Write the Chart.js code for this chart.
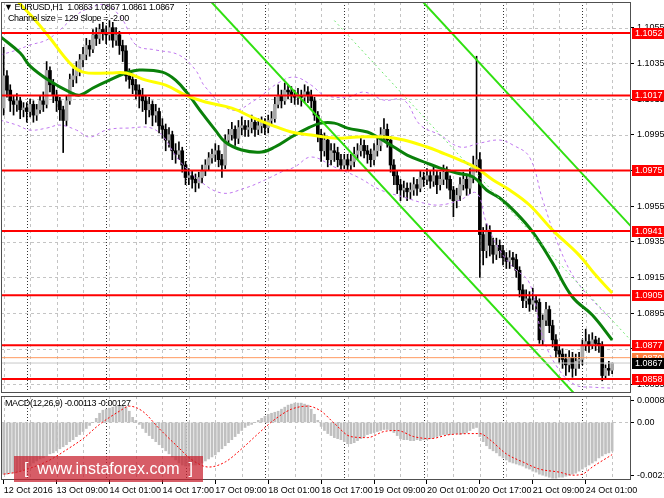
<!DOCTYPE html>
<html>
<head>
<meta charset="utf-8">
<script src="https://cdn.jsdelivr.net/npm/chart.js@4.4.0/dist/chart.umd.min.js"></script>
<style>
  html, body { margin: 0; padding: 0; background: #fff; }
  #wrap { position: relative; width: 664px; height: 498px; overflow: hidden; background: #fff; font-family: "Liberation Sans", Arial, sans-serif; }
  #main { position: absolute; left: 0; top: 0; }
  #macd { position: absolute; left: 0; top: 395px; }
  .txt { position: absolute; font-size: 9px; color: #000; white-space: pre; line-height: 11px; letter-spacing: -0.4px; }
  #wm { position: absolute; left: 14px; top: 456px; width: 189px; height: 26px; background: rgba(200, 30, 45, 0.72);
        color: #fff; font-size: 16px; line-height: 26px; white-space: pre; text-indent: 10px; }
</style>
</head>
<body>
<div id="wrap">
  <canvas id="main" width="664" height="395"></canvas>
  <canvas id="macd" width="664" height="103"></canvas>
  <div class="txt" style="left:4px;top:2px;">▼ EURUSD,H1  1.0863 1.0867 1.0861 1.0867</div>
  <div class="txt" style="left:8px;top:13px;">Channel size = 129 Slope = -2.00</div>
  <div class="txt" style="left:5px;top:398px;">MACD(12,26,9) -0.00113 -0.00127</div>
  <div id="wm">[  www.instaforex.com  ]</div>
</div>
<script>
// EURUSD H1, bars from 12 Oct 17:00 to 24 Oct 09:00
const firstOpen = 1.1010;
const closes = [
  1.1028,1.1020,1.1014,1.1012,1.1014,1.1009,1.1010,1.1008,1.1012,1.1006,
  1.1009,1.1014,1.1012,1.1031,1.1023,1.1017,1.1014,1.1009,1.1003,1.1014,
  1.1026,1.1028,1.1031,1.1037,1.1040,1.1045,1.1043,1.1051,1.1049,1.1054,
  1.1052,1.1051,1.1055,1.1048,1.1051,1.1045,1.1042,1.1028,1.1026,1.1023,
  1.1020,1.1017,1.1014,1.1009,1.1012,1.1006,1.1008,1.1000,1.0998,1.0992,
  1.0995,1.0986,1.0984,1.0986,1.0978,1.0971,1.0972,1.0970,1.0968,1.0971,
  1.0975,1.0978,1.0982,1.0984,1.0986,1.0981,1.0978,1.0992,1.0995,1.0998,
  1.0993,1.0999,1.1000,1.0998,1.0999,1.1002,1.0998,1.1000,1.1002,1.0999,
  1.1003,1.1004,1.1012,1.1017,1.1014,1.1020,1.1019,1.1017,1.1016,1.1017,
  1.1016,1.1019,1.1017,1.1014,1.1006,1.0995,1.0986,1.0992,1.0981,1.0986,
  1.0985,1.0981,1.0978,1.0981,1.0978,1.0980,1.0984,1.0986,1.0989,1.0986,
  1.0984,1.0981,1.0986,1.0989,1.0995,1.0998,1.0992,1.0978,1.0972,1.0967,
  1.0964,1.0965,1.0963,1.0964,1.0967,1.0965,1.0971,1.0970,1.0972,1.0969,
  1.0972,1.0967,1.0970,1.0974,1.0970,1.0964,1.0958,1.0961,1.0967,1.0970,
  1.0965,1.0971,1.0978,1.0981,1.0939,1.0930,1.0941,1.0933,1.0928,1.0933,
  1.0930,1.0926,1.0924,1.0926,1.0925,1.0919,1.0908,1.0902,1.0903,1.0900,
  1.0902,1.0901,1.0880,1.0891,1.0897,1.0888,1.0880,1.0874,1.0872,1.0869,
  1.0866,1.0870,1.0864,1.0868,1.0869,1.0877,1.0879,1.0877,1.0880,1.0878,
  1.0877,1.0860,1.0864,1.0863,1.0867
];
const highs = [
  1.1044,1.1031,1.1023,1.1017,1.1018,1.1016,1.1013,1.1013,1.1015,1.1014,
  1.1012,1.1017,1.1019,1.1036,1.1033,1.1026,1.1020,1.1016,1.1011,1.1017,
  1.1029,1.1032,1.1036,1.1040,1.1044,1.1049,1.1048,1.1054,1.1055,1.1057,
  1.1058,1.1056,1.1059,1.1058,1.1055,1.1053,1.1048,1.1045,1.1032,1.1029,
  1.1026,1.1023,1.1021,1.1017,1.1016,1.1014,1.1012,1.1010,1.1004,1.1001,
  1.0999,1.0997,1.0990,1.0991,1.0988,1.0980,1.0976,1.0975,1.0973,1.0974,
  1.0978,1.0981,1.0985,1.0987,1.0990,1.0989,1.0984,1.0995,1.0998,1.1002,
  1.1000,1.1003,1.1005,1.1003,1.1003,1.1006,1.1004,1.1004,1.1005,1.1004,
  1.1006,1.1008,1.1016,1.1023,1.1020,1.1024,1.1023,1.1022,1.1020,1.1021,
  1.1020,1.1023,1.1022,1.1020,1.1016,1.1008,1.0998,1.0996,1.0994,1.0990,
  1.0990,1.0988,1.0984,1.0984,1.0984,1.0984,1.0988,1.0990,1.0993,1.0992,
  1.0989,1.0987,1.0990,1.0993,1.0999,1.1004,1.1001,1.0994,1.0981,1.0975,
  1.0970,1.0969,1.0968,1.0968,1.0971,1.0970,1.0975,1.0974,1.0976,1.0975,
  1.0977,1.0975,1.0974,1.0978,1.0977,1.0972,1.0966,1.0965,1.0971,1.0974,
  1.0973,1.0976,1.0983,1.1039,1.0985,1.0943,1.0945,1.0944,1.0937,1.0937,
  1.0936,1.0933,1.0929,1.0930,1.0929,1.0928,1.0921,1.0911,1.0908,1.0907,
  1.0909,1.0905,1.0903,1.0894,1.0901,1.0899,1.0891,1.0883,1.0877,1.0875,
  1.0872,1.0874,1.0873,1.0872,1.0873,1.0880,1.0886,1.0883,1.0884,1.0882,
  1.0881,1.0879,1.0866,1.0868,1.0867
];
const lows = [
  1.1006,1.1016,1.1008,1.1006,1.1008,1.1004,1.1005,1.1002,1.1005,1.1002,
  1.1003,1.1007,1.1008,1.1010,1.1019,1.1013,1.1008,1.1003,1.0985,1.1000,
  1.1012,1.1022,1.1024,1.1028,1.1033,1.1037,1.1039,1.1041,1.1045,1.1046,
  1.1048,1.1046,1.1048,1.1044,1.1045,1.1040,1.1036,1.1025,1.1021,1.1018,
  1.1015,1.1010,1.1008,1.1001,1.1005,1.1000,1.1002,1.0996,1.0993,1.0986,
  1.0988,1.0981,1.0979,1.0981,1.0974,1.0967,1.0967,1.0965,1.0963,1.0965,
  1.0968,1.0972,1.0975,1.0979,1.0980,1.0977,1.0971,1.0976,1.0989,1.0992,
  1.0989,1.0990,1.0995,1.0994,1.0994,1.0996,1.0994,1.0995,1.0996,1.0995,
  1.0996,1.1000,1.1002,1.1010,1.1010,1.1012,1.1015,1.1013,1.1012,1.1012,
  1.1011,1.1013,1.1013,1.1010,1.1003,1.0991,1.0980,1.0983,1.0977,1.0978,
  1.0980,1.0977,1.0975,1.0976,1.0975,1.0975,1.0977,1.0981,1.0983,1.0982,
  1.0979,1.0977,1.0978,1.0983,1.0986,1.0992,1.0988,1.0974,1.0967,1.0962,
  1.0958,1.0960,1.0958,1.0959,1.0961,1.0961,1.0963,1.0966,1.0967,1.0965,
  1.0966,1.0962,1.0964,1.0967,1.0965,1.0959,1.0949,1.0954,1.0958,1.0964,
  1.0961,1.0962,1.0968,1.0974,1.0915,1.0922,1.0926,1.0927,1.0923,1.0925,
  1.0926,1.0922,1.0920,1.0920,1.0921,1.0915,1.0904,1.0898,1.0898,1.0896,
  1.0897,1.0896,1.0878,1.0877,1.0888,1.0884,1.0876,1.0870,1.0867,1.0864,
  1.0860,1.0862,1.0859,1.0860,1.0864,1.0866,1.0874,1.0873,1.0875,1.0874,
  1.0873,1.0857,1.0858,1.0860,1.0861
];

// MACD(12,26,9): main line (histogram) per bar and signal line points
const macdMain = [
  -0.00204,-0.00204,-0.00200,-0.00200,-0.00196,-0.00192,-0.00188,-0.00180,-0.00172,-0.00160,
  -0.00152,-0.00144,-0.00140,-0.00132,-0.00124,-0.00120,-0.00112,-0.00104,-0.00096,-0.00088,
  -0.00076,-0.00068,-0.00056,-0.00048,-0.00036,-0.00024,-0.00012,0,0.00016,0.00036,
  0.00048,0.00052,0.00056,0.00060,0.00064,0.00064,0.00064,0.00060,0.00044,0.00020,
  0.00008,-0.00008,-0.00024,-0.00040,-0.00052,-0.00064,-0.00076,-0.00088,-0.00100,-0.00112,
  -0.00124,-0.00136,-0.00148,-0.00160,-0.00168,-0.00172,-0.00172,-0.00168,-0.00168,-0.00164,
  -0.00160,-0.00152,-0.00144,-0.00136,-0.00128,-0.00116,-0.00104,-0.00092,-0.00080,-0.00068,
  -0.00056,-0.00044,-0.00032,-0.00020,-0.00012,-0.00008,0,0.00008,0.00016,0.00024,
  0.00032,0.00036,0.00040,0.00044,0.00052,0.00060,0.00068,0.00072,0.00076,0.00076,
  0.00076,0.00072,0.00068,0.00052,0.00032,0.00008,-0.00016,-0.00032,-0.00044,-0.00052,
  -0.00060,-0.00064,-0.00068,-0.00076,-0.00084,-0.00084,-0.00080,-0.00072,-0.00064,-0.00056,
  -0.00048,-0.00044,-0.00040,-0.00036,-0.00032,-0.00028,-0.00028,-0.00032,-0.00040,-0.00052,
  -0.00064,-0.00068,-0.00068,-0.00072,-0.00072,-0.00068,-0.00072,-0.00068,-0.00068,-0.00064,
  -0.00060,-0.00056,-0.00052,-0.00048,-0.00048,-0.00048,-0.00044,-0.00044,-0.00048,-0.00044,
  -0.00040,-0.00032,-0.00024,-0.00020,-0.00056,-0.00076,-0.00092,-0.00104,-0.00112,-0.00120,
  -0.00132,-0.00140,-0.00148,-0.00156,-0.00160,-0.00164,-0.00168,-0.00172,-0.00180,-0.00184,
  -0.00192,-0.00196,-0.00204,-0.00208,-0.00212,-0.00216,-0.00220,-0.00220,-0.00216,-0.00216,
  -0.00212,-0.00208,-0.00204,-0.00200,-0.00192,-0.00184,-0.00176,-0.00168,-0.00160,-0.00152,
  -0.00140,-0.00132,-0.00124,-0.00120,-0.00113
];
const signalBars = [0,4,9,14,19,24,29,35,38,42,47,52,57,62,67,72,77,82,87,92,96,100,105,110,115,119,124,129,135,144,147,152,157,162,168,172,175,178,184];
const signalVals = [-0.00204,-0.00196,-0.00176,-0.00148,-0.00108,-0.00064,-0.00008,0.00044,0.00064,0.00044,-0.00024,-0.00088,-0.00148,-0.00176,-0.00156,-0.00104,-0.00044,0.00012,0.00052,0.00064,0.00044,-0.00004,-0.00056,-0.00060,-0.00036,-0.00032,-0.00056,-0.00064,-0.00048,-0.00044,-0.00068,-0.00124,-0.00156,-0.00184,-0.00196,-0.00208,-0.00204,-0.00176,-0.00127];

// moving averages
const maSlowBars = [2,5,9,14,20,24,32,37,43,49,55,61,69,75,81,87,93,100,107,115,121,128,132,138,143,148,153,159,166,174,179,184];
const maSlowVals = [1.1075,1.10683,1.10604,1.10492,1.10352,1.10301,1.10296,1.10296,1.10256,1.10228,1.10172,1.10133,1.10099,1.10049,1.10004,1.09965,1.09948,1.09931,1.09937,1.09937,1.09920,1.09881,1.09853,1.09808,1.09763,1.09696,1.09640,1.09556,1.09415,1.09275,1.09163,1.09062];
const maFastBars = [-1,5,8,14,20,23,27,32,37,41,48,52,56,60,64,67,72,78,82,87,92,96,100,104,110,113,118,122,128,132,137,142,146,150,155,160,166,172,178,184];
const maFastVals = [1.10500,1.10408,1.10335,1.10251,1.10189,1.10172,1.10212,1.10256,1.10296,1.10313,1.10301,1.10256,1.10172,1.10071,1.09976,1.09909,1.09864,1.09853,1.09881,1.09937,1.09987,1.10015,1.10015,1.09987,1.09965,1.09937,1.09881,1.09836,1.09791,1.09763,1.09735,1.09713,1.09640,1.09595,1.09511,1.09404,1.09230,1.09040,1.08939,1.08799];

// bands (dashed violet)
const bandUpBars = [-1,4,8,13,17,22,26,31,36,40,46,53,58,61,69,76,83,88,93,97,104,109,115,121,126,132,138,144,150,154,159,163,168,173,180,184];
const bandUpVals = [1.10397,1.10425,1.10453,1.10481,1.10537,1.10621,1.10660,1.10677,1.10593,1.10453,1.10425,1.10397,1.10313,1.10217,1.10088,1.10144,1.10240,1.10273,1.10228,1.10172,1.10161,1.10189,1.10144,1.10144,1.10004,1.09948,1.09881,1.09903,1.09920,1.09892,1.09825,1.09584,1.09320,1.09135,1.08984,1.08911];
const bandLoBars = [-1,4,8,13,17,22,26,31,37,46,53,59,66,73,79,84,88,93,100,107,114,121,127,132,138,143,146,150,154,159,163,168,173,178,184];
const bandLoVals = [1.10032,1.10004,1.09976,1.09987,1.10004,1.09976,1.09937,1.09976,1.09987,1.09976,1.09808,1.09696,1.09623,1.09651,1.09696,1.09741,1.09769,1.09825,1.09769,1.09713,1.09640,1.09600,1.09567,1.09556,1.09584,1.09623,1.09455,1.09303,1.09208,1.09118,1.08816,1.08630,1.08546,1.08535,1.08529];

// regression channel: start/end of each line as [bar, price]
const channelTop = [[126, 1.1071], [190, 1.0943]];
const channelMid = [[100, 1.1059], [190, 1.0879]];
const channelBot = [[62, 1.1071], [190, 1.0815]];

// horizontal levels
const levels = [1.1052, 1.1017, 1.0975, 1.0941, 1.0905, 1.0877, 1.0858];
const orangeLevel = 1.0870;
const bidPrice = 1.0867;

// axes
const priceTicks = [1.1055, 1.1035, 1.1015, 1.0995, 1.0975, 1.0955, 1.0935, 1.0915, 1.0895, 1.0875, 1.0855];
const macdTicks = [0.00088, 0, -0.00211];
const labelBars = [0, 16, 32, 48, 64, 80, 96, 112, 128, 144, 160, 176];
const timeLabels = ['12 Oct 2016', '13 Oct 09:00', '14 Oct 01:00', '14 Oct 17:00', '17 Oct 09:00', '18 Oct 01:00',
                    '18 Oct 17:00', '19 Oct 09:00', '20 Oct 01:00', '20 Oct 17:00', '21 Oct 09:00', '24 Oct 01:00'];
const daySeps = [7, 31, 55, 79, 103, 127, 151, 175];

const xMin = -0.8, xMax = 189.7;
const FONT = 'Liberation Sans';
Chart.defaults.font.family = FONT;
Chart.defaults.animation = false;

const opens = closes.map((c, i) => i === 0 ? firstOpen : closes[i - 1]);
const pts = (bars, vals) => bars.map((b, i) => ({ x: b, y: vals[i] }));
const seg = s => s.map(p => ({ x: p[0], y: p[1] }));

// keep axes from reserving room for half-labels, so the plot spans the full panel
const noPad = (w, h) => s => {
  if (w) s.width = w;
  if (h) s.height = h;
  s.paddingTop = 0; s.paddingBottom = 0; s.paddingLeft = 0; s.paddingRight = 0;
};

function gridLines(chart, withPrice) {
  const { ctx, chartArea: a, scales: { x, y } } = chart;
  ctx.save();
  ctx.beginPath();
  ctx.rect(a.left, a.top, a.right - a.left, a.bottom - a.top);
  ctx.clip();
  ctx.lineWidth = 1;
  ctx.strokeStyle = '#c4c4c4';
  ctx.setLineDash([3, 3]);
  const hv = withPrice ? priceTicks : [0];
  hv.forEach(v => {
    const py = Math.round(y.getPixelForValue(v)) + 0.5;
    ctx.beginPath(); ctx.moveTo(a.left, py); ctx.lineTo(a.right, py); ctx.stroke();
  });
  for (let b = 0; b <= 190; b += 8) {
    const px = Math.round(x.getPixelForValue(b)) + 0.5;
    ctx.beginPath(); ctx.moveTo(px, a.top); ctx.lineTo(px, a.bottom); ctx.stroke();
  }
  ctx.strokeStyle = '#303030';
  ctx.setLineDash([1, 2]);
  daySeps.forEach(b => {
    const px = Math.round(x.getPixelForValue(b)) + 0.5;
    ctx.beginPath(); ctx.moveTo(px, a.top); ctx.lineTo(px, a.bottom); ctx.stroke();
  });
  ctx.restore();
}

function frame(chart) {
  const { ctx, chartArea: a } = chart;
  ctx.save();
  ctx.strokeStyle = '#505050';
  ctx.lineWidth = 1;
  ctx.strokeRect(Math.round(a.left) + 0.5, Math.round(a.top) + 0.5, Math.round(a.right - a.left) - 1, Math.round(a.bottom - a.top) - 1);
  ctx.restore();
}

function priceTag(chart, v, bg) {
  const { ctx, scales: { y }, chartArea: a } = chart;
  const py = Math.round(y.getPixelForValue(v));
  ctx.fillStyle = bg;
  ctx.fillRect(a.right + 1, py - 5, 33, 11);
  ctx.fillStyle = '#fff';
  ctx.font = '9px ' + FONT;
  ctx.textBaseline = 'middle';
  ctx.textAlign = 'left';
  ctx.fillText(v.toFixed(4), a.right + 4, py + 0.5);
}

const mainDecor = {
  id: 'mainDecor',
  beforeDatasetsDraw(chart) { gridLines(chart, true); },
  afterDraw(chart) {
    frame(chart);
    const { ctx } = chart;
    ctx.save();
    priceTag(chart, orangeLevel, '#ff8040');
    levels.forEach(v => priceTag(chart, v, '#ff0000'));
    priceTag(chart, bidPrice, '#000000');
    ctx.restore();
  }
};

const macdDecor = {
  id: 'macdDecor',
  beforeDatasetsDraw(chart) { gridLines(chart, false); },
  afterDraw(chart) { frame(chart); }
};

const lineDs = (data, color, width, extra) => Object.assign({
  type: 'line', data, borderColor: color, borderWidth: width, pointRadius: 0, fill: false
}, extra || {});

new Chart(document.getElementById('main'), {
  type: 'bar',
  data: {
    datasets: [
      ...levels.map(v => lineDs([{ x: xMin, y: v }, { x: xMax, y: v }], '#ff0000', 2, { order: 0 })),
      lineDs([{ x: xMin, y: orangeLevel }, { x: xMax, y: orangeLevel }], '#ff9a60', 1, { order: 1 }),
      lineDs([{ x: xMin, y: bidPrice }, { x: xMax, y: bidPrice }], '#c8c8c8', 1, { order: 1 }),
      lineDs(seg(channelTop), '#30e010', 2, { order: 2 }),
      lineDs(seg(channelBot), '#30e010', 2, { order: 2 }),
      lineDs(seg(channelMid), '#70e870', 1, { order: 2, borderDash: [2, 3] }),
      lineDs(pts(maSlowBars, maSlowVals), '#ffff00', 3, { order: 3, tension: 0.4 }),
      lineDs(pts(maFastBars, maFastVals), '#0a800a', 3, { order: 3, tension: 0.4 }),
      lineDs(pts(bandUpBars, bandUpVals), '#c078f0', 1, { order: 4, tension: 0.4, borderDash: [3, 3] }),
      lineDs(pts(bandLoBars, bandLoVals), '#c078f0', 1, { order: 4, tension: 0.4, borderDash: [3, 3] }),
      {
        type: 'bar', order: 5, grouped: false, barThickness: 3, minBarLength: 1,
        data: closes.map((c, i) => ({ x: i, y: [Math.min(opens[i], c), Math.max(opens[i], c)] })),
        backgroundColor: closes.map((c, i) => c >= opens[i] ? '#a8a8a8' : '#000000')
      },
      {
        type: 'bar', order: 6, grouped: false, barThickness: 1,
        data: closes.map((c, i) => ({ x: i, y: [lows[i], highs[i]] })),
        backgroundColor: '#000000'
      }
    ]
  },
  options: {
    responsive: false,
    animation: false,
    layout: { padding: { left: 1, top: 2, right: 0, bottom: 2 } },
    plugins: { legend: { display: false }, tooltip: { enabled: false } },
    scales: {
      x: { type: 'linear', min: xMin, max: xMax, offset: false, display: false, grid: { offset: false } },
      y: {
        position: 'right', min: 1.08502, max: 1.10694, beginAtZero: false,
        afterBuildTicks: s => { s.ticks = priceTicks.map(v => ({ value: v })); },
        afterFit: noPad(33, 0),
        ticks: { autoSkip: false, font: { size: 9 }, color: '#000', padding: 3, callback: v => v.toFixed(4) },
        grid: { drawOnChartArea: false, drawTicks: true, tickLength: 3, tickColor: '#000' },
        border: { display: false }
      }
    }
  },
  plugins: [mainDecor]
});

new Chart(document.getElementById('macd'), {
  type: 'bar',
  data: {
    datasets: [
      lineDs(pts(signalBars, signalVals), '#ff0000', 1, { order: 0, borderDash: [2, 2], cubicInterpolationMode: 'monotone' }),
      {
        type: 'bar', order: 1, grouped: false, barThickness: 2,
        data: macdMain.map((v, i) => ({ x: i, y: v })),
        backgroundColor: '#c0c0c0'
      }
    ]
  },
  options: {
    responsive: false,
    animation: false,
    layout: { padding: { left: 1, top: 1, right: 0, bottom: 0 } },
    plugins: { legend: { display: false }, tooltip: { enabled: false } },
    scales: {
      x: {
        type: 'linear', min: xMin, max: xMax, offset: false,
        afterBuildTicks: s => { s.ticks = labelBars.map(v => ({ value: v })); },
        afterFit: noPad(0, 18),
        ticks: { autoSkip: false, maxRotation: 0, align: 'start', font: { size: 9 }, color: '#000', padding: 1,
                 callback: v => timeLabels[labelBars.indexOf(v)] },
        grid: { drawOnChartArea: false, drawTicks: true, tickLength: 4, tickColor: '#000', offset: false },
        border: { display: false }
      },
      y: {
        position: 'right', min: -0.00227, max: 0.00104, beginAtZero: false,
        afterBuildTicks: s => { s.ticks = macdTicks.map(v => ({ value: v })); },
        afterFit: noPad(33, 0),
        ticks: { autoSkip: false, font: { size: 9 }, color: '#000', padding: 3,
                 callback: v => v === 0 ? '0.00' : v.toFixed(5) },
        grid: { drawOnChartArea: false, drawTicks: true, tickLength: 3, tickColor: '#000' },
        border: { display: false }
      }
    }
  },
  plugins: [macdDecor]
});
</script>
</body>
</html>
